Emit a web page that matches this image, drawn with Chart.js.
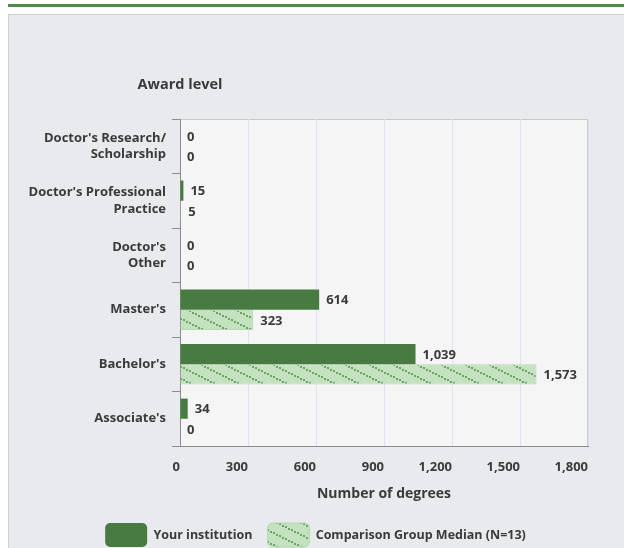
<!DOCTYPE html>
<html>
<head>
<meta charset="utf-8">
<script src="https://cdn.jsdelivr.net/npm/chart.js@4/dist/chart.umd.min.js"></script>
<style>
  html, body { margin: 0; padding: 0; background: #ffffff; }
  #wrap { position: relative; width: 624px; height: 548px; overflow: hidden; }
  #topline { position: absolute; left: 8px; top: 4px; width: 616px; height: 3px; background: #4f8a4b; }
  #panel { position: absolute; left: 8px; top: 14px; width: 616px; height: 540px;
           background: #e9eaee; border-left: 1px solid #cfcfcf; border-top: 1px solid #cfcfcf; }
  #chart { position: absolute; left: 0; top: 0; }
</style>
</head>
<body>
<div id="wrap">
  <div id="topline"></div>
  <div id="panel"></div>
  <canvas id="chart" width="624" height="548"></canvas>
</div>
<script>
// Chart data
const categories = [
    ["Doctor's Research/", "Scholarship"],
    ["Doctor's Professional", "Practice"],
    ["Doctor's", "Other"],
    "Master's",
    "Bachelor's",
    "Associate's"
];
const yourInstitution = [0, 15, 0, 614, 1039, 34];
const comparisonMedian = [0, 5, 0, 323, 1573, 0];
const seriesNames = ['Your institution', 'Comparison Group Median (N=13)'];
const xTicks = [0, 300, 600, 900, 1200, 1500, 1800];

const FONT = "'Open Sans', sans-serif";
const TEXT = '#3a3a3a';

// dotted diagonal hatch for the comparison series
function makeHatch() {
    const c = document.createElement('canvas');
    c.width = 24;
    c.height = 12;
    const g = c.getContext('2d');
    g.fillStyle = '#c4e2c0';
    g.fillRect(0, 0, 24, 12);
    g.fillStyle = '#6aa565';
    for (let x = 0; x < 24; x += 3) {
        const y = Math.floor(x / 2);
        g.fillRect(x, y, 2, 2);
    }
    return g.createPattern(c, 'repeat');
}

const fmt = v => v.toLocaleString('en-US');

// light plot background + border, and the y axis title above it
const plotBg = {
    id: 'plotBg',
    afterInit(chart) {
        // keep the legend strip at a fixed height
        const lg = chart.legend;
        if (lg) {
            const fit = lg.fit.bind(lg);
            lg.fit = function () { fit(); this.height = 40; };
        }
    },
    afterLayout(chart) {
        // centre the legend on the page, not on the padded area
        const lg = chart.legend;
        if (lg) {
            lg.left = 7;
            lg.right = 624;
            lg.width = 617;
        }
    },
    beforeDraw(chart) {
        const { ctx, chartArea: a } = chart;
        ctx.save();
        ctx.fillStyle = '#f5f5f5';
        ctx.fillRect(a.left, a.top, a.right - a.left, a.bottom - a.top);
        ctx.strokeStyle = '#c9c9c9';
        ctx.lineWidth = 1;
        ctx.strokeRect(a.left + 0.5, a.top + 0.5, a.right - a.left - 1, a.bottom - a.top);
        ctx.restore();
    },
    afterDraw(chart) {
        const { ctx, chartArea: a } = chart;
        ctx.save();
        ctx.fillStyle = TEXT;
        ctx.font = 'bold 14.5px ' + FONT;
        ctx.textAlign = 'center';
        ctx.textBaseline = 'middle';
        ctx.fillText('Award level', a.left, 85);
        ctx.restore();
    }
};

// value labels at the end of each bar
const valueLabels = {
    id: 'valueLabels',
    afterDatasetsDraw(chart) {
        const ctx = chart.ctx;
        ctx.save();
        ctx.fillStyle = TEXT;
        ctx.font = 'bold 13px ' + FONT;
        ctx.textAlign = 'left';
        ctx.textBaseline = 'middle';
        chart.data.datasets.forEach((ds, i) => {
            chart.getDatasetMeta(i).data.forEach((bar, j) => {
                ctx.fillText(fmt(ds.data[j]), bar.x + 7, bar.y + 1);
            });
        });
        ctx.restore();
    }
};

new Chart(document.getElementById('chart'), {
    type: 'bar',
    data: {
        labels: categories,
        datasets: [
            {
                label: seriesNames[0],
                data: yourInstitution,
                backgroundColor: '#487b42',
                borderColor: '#487b42',
                borderWidth: 0,
                categoryPercentage: 0.74,
                barPercentage: 1
            },
            {
                label: seriesNames[1],
                data: comparisonMedian,
                backgroundColor: makeHatch(),
                borderColor: '#b5d8b1',
                borderWidth: 1,
                categoryPercentage: 0.74,
                barPercentage: 1
            }
        ]
    },
    options: {
        indexAxis: 'y',
        responsive: false,
        animation: false,
        layout: { padding: { top: 119, right: 36, left: 0, bottom: 0 } },
        scales: {
            x: {
                min: 0,
                max: 1800,
                afterBuildTicks(scale) {
                    scale.ticks = xTicks.map(v => ({ value: v }));
                },
                afterFit(scale) { scale.height = 62; },
                border: { color: '#8c8c8c', width: 1 },
                grid: { color: '#dde3ee', drawTicks: false },
                ticks: {
                    align: 'end',
                    padding: 13,
                    color: TEXT,
                    font: { family: FONT, size: 13, weight: 'bold' },
                    callback: v => fmt(v)
                },
                title: {
                    display: true,
                    text: 'Number of degrees',
                    color: TEXT,
                    font: { family: FONT, size: 14, weight: 'bold' },
                    padding: { top: 4, bottom: 6 }
                }
            },
            y: {
                afterFit(scale) { scale.width = 180; },
                border: { color: '#8c8c8c', width: 1 },
                grid: { drawOnChartArea: false, tickLength: 8, color: '#8c8c8c', offset: true },
                ticks: {
                    padding: 6,
                    color: TEXT,
                    font: { family: FONT, size: 13, weight: 'bold', lineHeight: 1.3 }
                }
            }
        },
        plugins: {
            legend: {
                position: 'bottom',
                labels: {
                    boxWidth: 42,
                    boxHeight: 24,
                    useBorderRadius: true,
                    borderRadius: 5,
                    padding: 15,
                    color: TEXT,
                    font: { family: FONT, size: 12.5, weight: 'bold' }
                }
            },
            tooltip: { enabled: false }
        }
    },
    plugins: [plotBg, valueLabels]
});
</script>
</body>
</html>
